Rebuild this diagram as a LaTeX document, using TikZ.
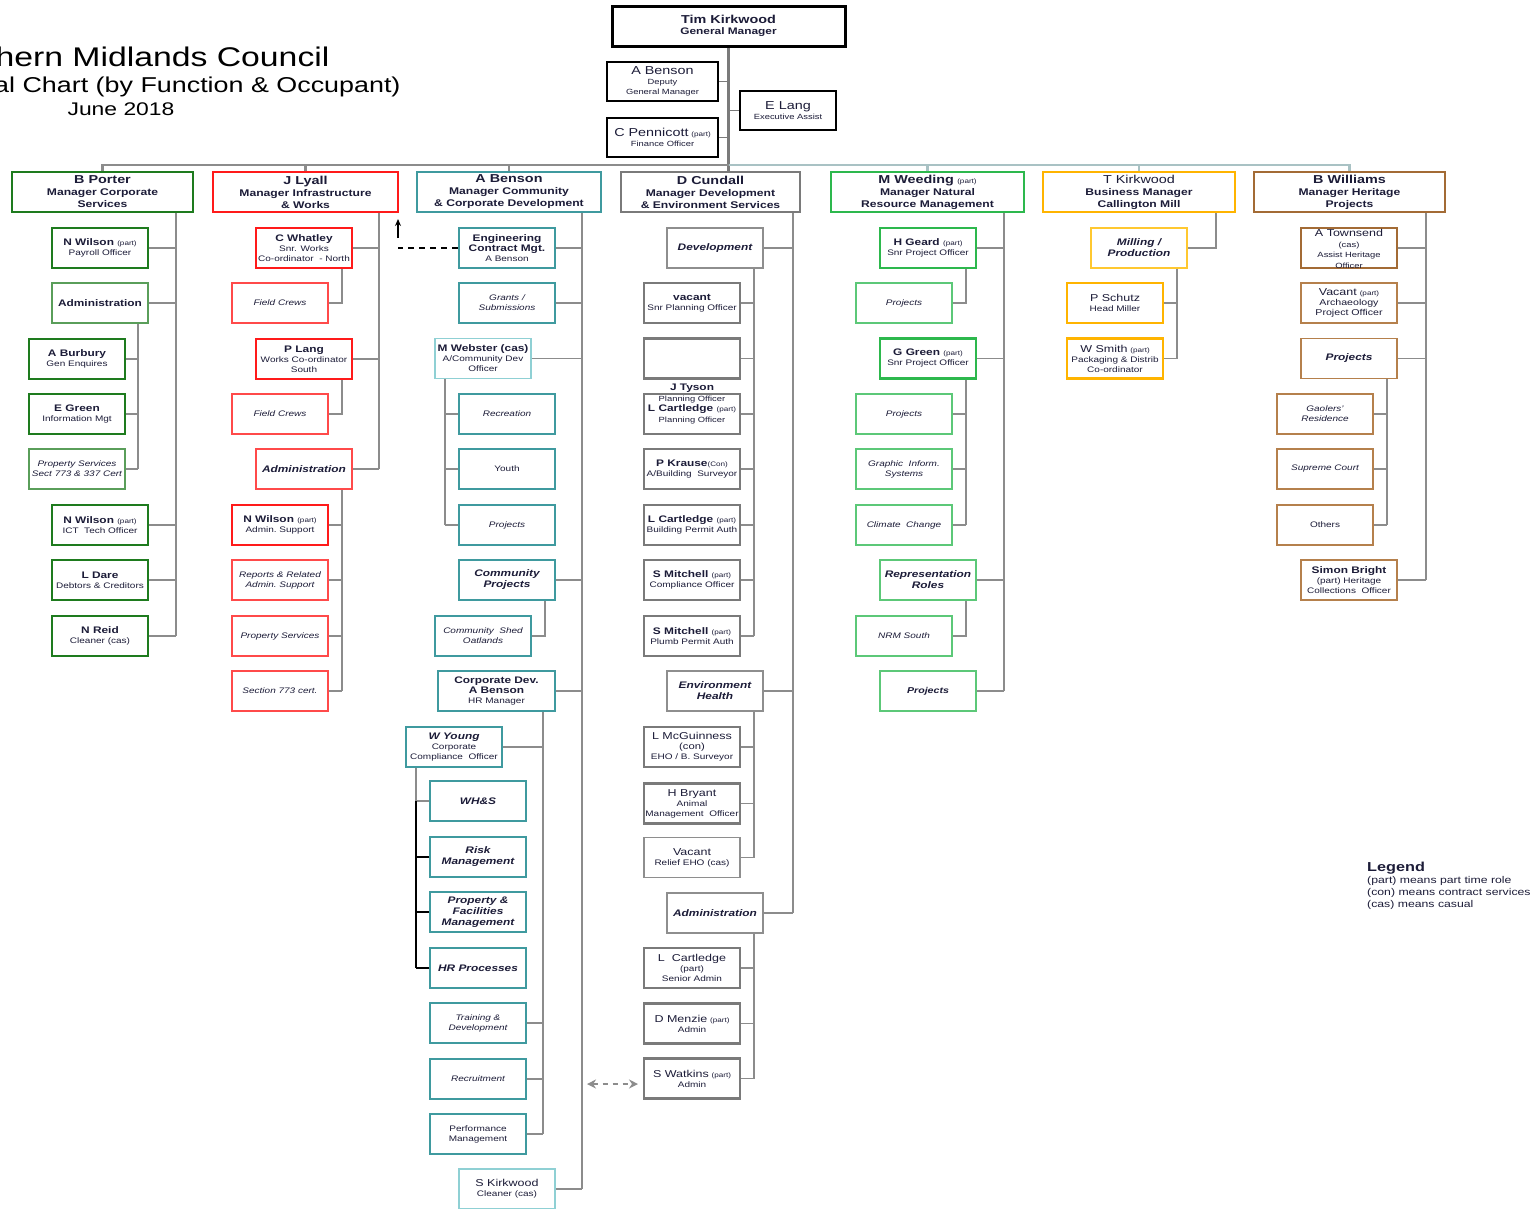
\documentclass[tikz,border=0pt]{standalone}
\usepackage{fontspec}
\setmainfont[FakeStretch=1.25]{Liberation Sans}
\usetikzlibrary{arrows.meta}
\definecolor{ink}{HTML}{1C1C38}
\definecolor{wiregray}{HTML}{8C8C8C}
\definecolor{busteal}{HTML}{A9C2C4}
\definecolor{gcorp}{HTML}{1E7B1E}
\definecolor{gcorpl}{HTML}{5A9E5A}
\definecolor{rwork}{HTML}{FF1A1A}
\definecolor{rworkl}{HTML}{FF4A4A}
\definecolor{teala}{HTML}{3F9A9F}
\definecolor{tealb}{HTML}{8FD0D4}
\definecolor{gdev}{HTML}{7A7A7A}
\definecolor{gdevl}{HTML}{8E8E8E}
\definecolor{gnrm}{HTML}{2DB84D}
\definecolor{gnrml}{HTML}{5CC878}
\definecolor{omill}{HTML}{FFB400}
\definecolor{omilll}{HTML}{FFC830}
\definecolor{bher}{HTML}{A36B35}
\definecolor{bherl}{HTML}{B5804C}
% text sizes
\newcommand{\pname}{\fontsize{9.5}{10}\selectfont\bfseries}
\newcommand{\qname}{\fontsize{10}{10}\selectfont}
\newcommand{\hname}{\fontsize{11.5}{12}\selectfont}
\newcommand{\ptag}[1]{{\fontsize{6.5}{8}\selectfont\mdseries #1}}

\begin{document}
\begin{tikzpicture}[x=1pt,y=-1pt,
	box/.style={draw,rectangle,fill=white,minimum width=96,minimum height=40,inner sep=1pt,align=center,text=ink,font=\fontsize{8}{10}\selectfont},
	person/.style={box,line width=2.6pt},
	func/.style={box,line width=1.4pt},
	fitem/.style={func,font=\fontsize{8}{10}\selectfont\itshape},
	fhead/.style={func,font=\fontsize{9.5}{11}\selectfont\bfseries\itshape},
	head/.style={box,line width=2.8pt,font=\fontsize{9.7}{12}\selectfont\bfseries},
	topbox/.style={box,draw=black,line width=1.9pt,minimum width=111,minimum height=39},
	wire/.style={draw=wiregray,line width=2.4pt},
	twig/.style={draw=wiregray,line width=1.9pt}]
	\useasboundingbox (0,0) rectangle (1533,1208);
	% title
	\node[anchor=base east,font=\fontsize{27}{30}\selectfont,text=black] (title) at (333,66) {hern Midlands Council};
	\node[anchor=base east,font=\fontsize{21.5}{24}\selectfont,text=black] (subtitle) at (404,92) {al Chart (by Function \& Occupant)};
	\node[anchor=base,font=\fontsize{18.3}{20}\selectfont,text=black] (date) at (121,115) {June 2018};
	% general manager
	\node[box,draw=black,line width=3pt,minimum width=233,font=\fontsize{9.5}{11}\selectfont\bfseries] (tim) at (728.5,26) {{\hname Tim Kirkwood}\\General Manager};
	\node[topbox] (deputy) at (662.5,81.5) {{\fontsize{11.5}{12}\selectfont A Benson}\\{\fontsize{7.5}{8}\selectfont Deputy}\\{\fontsize{7.5}{8}\selectfont General Manager}};
	\node[topbox,minimum width=96] (elang) at (788,110.5) {{\fontsize{11.5}{12}\selectfont E Lang}\\{\fontsize{7.5}{8}\selectfont Executive Assist}};
	\node[topbox] (pennicott) at (662.5,137.5) {{\fontsize{11.5}{12}\selectfont C Pennicott} \ptag{(part)}\\{\fontsize{7.5}{8}\selectfont Finance Officer}};
	% managers
	\node[head,draw=gcorp,minimum width=181] (porter) at (102.5,192) {{\hname B Porter}\\Manager Corporate\\Services};
	\node[head,draw=rwork,minimum width=185] (lyall) at (305.5,192) {{\hname J Lyall}\\Manager Infrastructure\\\& Works};
	\node[head,draw=teala,minimum width=184] (benson) at (509,192) {{\hname A Benson}\\Manager Community\\\& Corporate Development};
	\node[head,draw=gdev,minimum width=179] (cundall) at (710.5,192) {{\hname D Cundall}\\Manager Development\\\& Environment Services};
	\node[head,draw=gnrm,minimum width=193] (weeding) at (927.5,192) {{\hname M Weeding} \ptag{(part)}\\Manager Natural\\Resource Management};
	\node[head,draw=omill,minimum width=192] (tkirk) at (1139,192) {{\hname\mdseries T Kirkwood}\\Business Manager\\Callington Mill};
	\node[head,draw=bher,minimum width=191] (williams) at (1349.5,192) {{\hname B Williams}\\Manager Heritage\\Projects};
	\coordinate (bus) at (0,165);
	\draw[wire,draw=gdev] (tim.south) -- (cundall.north -| tim.south);
	\draw[wire] (porter.north) |- (tim.south |- bus);
	\draw[wire,draw=busteal] (tim.south |- bus) -| (williams.north);
	\foreach \h in {lyall,benson} \draw[wire] (\h.north) -- (\h.north |- bus);
	\foreach \h in {weeding,tkirk} \draw[wire,draw=busteal] (\h.north) -- (\h.north |- bus);
	\draw[twig,draw=gdev] (deputy.east) -- (deputy.east -| tim.south);
	\draw[twig,draw=gdev] (pennicott.east) -- (pennicott.east -| tim.south);
	\draw[twig,draw=gdev] (elang.west) -- (elang.west -| tim.south);
	% corporate services
	\node[person,draw=gcorp] (pwilson) at (100,248) {{\pname N Wilson \ptag{(part)}}\\Payroll Officer};
	\node[func,draw=gcorpl] (cadmin) at (100,303) {\pname Administration};
	\node[person,draw=gcorp] (burbury) at (77,359) {{\pname A Burbury}\\Gen Enquires};
	\node[person,draw=gcorp] (egreen) at (77,414) {{\pname E Green}\\Information Mgt};
	\node[fitem,draw=gcorpl] (cprop) at (77,469) {Property Services\\Sect 773 \& 337 Cert};
	\node[person,draw=gcorp] (ictwilson) at (100,525) {{\pname N Wilson \ptag{(part)}}\\ICT\ \ Tech Officer};
	\node[person,draw=gcorp] (ldare) at (100,580) {{\pname L Dare}\\Debtors \& Creditors};
	\node[person,draw=gcorp] (nreid) at (100,636) {{\pname N Reid}\\Cleaner (cas)};
	\coordinate (csp) at (176,0);
	\coordinate (casp) at (138,0);
	\draw[wire] (porter.south -| csp) -- (nreid.east -| csp);
	\foreach \n in {pwilson,cadmin,ictwilson,ldare,nreid} \draw[twig] (\n.east) -- (\n.east -| csp);
	\draw[wire] (cadmin.south -| casp) -- (cprop.east -| casp);
	\foreach \n in {burbury,egreen,cprop} \draw[twig] (\n.east) -- (\n.east -| casp);
	% infrastructure & works
	\node[person,draw=rwork] (whatley) at (304,248) {{\pname C Whatley}\\Snr. Works\\Co-ordinator\ \ - North};
	\node[fitem,draw=rworkl] (crews1) at (280,303) {Field Crews};
	\node[person,draw=rwork] (plang) at (304,359) {{\pname P Lang}\\Works Co-ordinator\\South};
	\node[fitem,draw=rworkl] (crews2) at (280,414) {Field Crews};
	\node[fhead,draw=rworkl] (ladmin) at (304,469) {Administration};
	\node[person,draw=rwork] (lwilson) at (280,525) {{\pname N Wilson \ptag{(part)}}\\Admin.\ Support};
	\node[fitem,draw=rworkl] (reports) at (280,580) {Reports \& Related\\Admin.\ Support};
	\node[fitem,draw=rworkl] (lprop) at (280,636) {Property Services};
	\node[fitem,draw=rworkl] (sect) at (280,691) {Section 773 cert.};
	\coordinate (lsp) at (379,0);
	\coordinate (lasp) at (342,0);
	\draw[wire] (lyall.south -| lsp) -- (ladmin.east -| lsp);
	\foreach \n in {whatley,plang,ladmin} \draw[twig] (\n.east) -- (\n.east -| lsp);
	\draw[twig] (whatley.south -| lasp) |- (crews1.east);
	\draw[twig] (plang.south -| lasp) |- (crews2.east);
	\draw[wire] (ladmin.south -| lasp) -- (sect.east -| lasp);
	\foreach \n in {lwilson,reports,lprop,sect} \draw[twig] (\n.east) -- (\n.east -| lasp);
	% community & corporate development
	\node[person,draw=teala] (eng) at (507,248) {{\pname Engineering}\\{\pname Contract Mgt.}\\A Benson};
	\node[fitem,draw=teala] (grants) at (507,303) {Grants /\\Submissions};
	\node[func,draw=tealb] (webster) at (483,358.5) {{\pname M Webster (cas)}\\A/Community Dev\\Officer};
	\node[fitem,draw=teala] (recr) at (507,414) {Recreation};
	\node[fitem,draw=teala] (youth) at (507,469) {\upshape Youth};
	\node[fitem,draw=teala] (bproj) at (507,525) {Projects};
	\node[fhead,draw=teala] (comproj) at (507,580) {Community\\Projects};
	\node[fitem,draw=teala] (shed) at (483,636) {Community\ \ Shed\\Oatlands};
	\node[person,draw=teala,minimum width=117] (corpdev) at (496.5,691) {{\pname Corporate Dev.}\\{\pname A Benson}\\HR Manager};
	\node[person,draw=teala] (wyoung) at (454,747) {{\pname\itshape W Young}\\Corporate\\Compliance\ \ Officer};
	\node[fhead,draw=teala] (whs) at (478,801) {WH\&S};
	\node[fhead,draw=teala] (risk) at (478,857) {Risk\\Management};
	\node[fhead,draw=teala] (propfac) at (478,912) {Property \&\\Facilities\\Management};
	\node[fhead,draw=teala] (hrproc) at (478,968) {HR Processes};
	\node[fitem,draw=teala] (train) at (478,1023) {Training \&\\Development};
	\node[fitem,draw=teala] (recruit) at (478,1079) {Recruitment};
	\node[func,draw=teala] (perf) at (478,1134) {Performance\\Management};
	\node[func,draw=tealb] (skirk) at (507,1189) {{\qname S Kirkwood}\\Cleaner (cas)};
	\coordinate (bsp) at (582,0);
	\coordinate (wsp) at (445,0);
	\coordinate (cpsp) at (545,0);
	\coordinate (dsp) at (543,0);
	\coordinate (ysp) at (416,0);
	\draw[wire] (benson.south -| bsp) -- (skirk.east -| bsp);
	\foreach \n in {eng,grants,webster,comproj,corpdev,skirk} \draw[twig] (\n.east) -- (\n.east -| bsp);
	\draw[wire] (webster.south -| wsp) -- (bproj.west -| wsp);
	\foreach \n in {recr,youth,bproj} \draw[twig] (\n.west) -- (\n.west -| wsp);
	\draw[twig] (comproj.south -| cpsp) |- (shed.east);
	\draw[wire] (corpdev.south -| dsp) -- (perf.east -| dsp);
	\foreach \n in {wyoung,train,recruit,perf} \draw[twig] (\n.east) -- (\n.east -| dsp);
	\draw[wire] (wyoung.south -| ysp) -- (whs.west -| ysp) -- (whs.west);
	\draw[line width=1.8pt,black] (whs.west -| ysp) -- (hrproc.west -| ysp);
	\foreach \n in {risk,propfac,hrproc} \draw[line width=1.5pt,black] (\n.west) -- (\n.west -| ysp);
	% dashed links
	\coordinate (lytip) at (398,219);
	\coordinate (lytail) at (398,238);
	\draw[dashed,line width=1.3pt,dash pattern=on 6pt off 5pt] (eng.west) -- (eng.west -| lytail);
	\draw[-{Stealth[length=7pt,width=6pt]},line width=1.8pt] (lytail) -- (lytip);
	% development & environment services
	\node[fhead,draw=gdevl] (devt) at (715,248) {Development};
	\node[person,draw=gdev] (vacant) at (692,303) {{\pname vacant}\\Snr Planning Officer};
	\node[person,draw=gdev] (emptyb) at (692,358.5) {};
	\node[person,draw=gdev] (tyson) at (692,414) {};
	\node[box,draw=none,fill=none,font=\fontsize{7.5}{10.5}\selectfont] (tysontxt) at (692,404) {{\pname J Tyson}\\Planning Officer\\{\pname L Cartledge \ptag{(part)}}\\Planning Officer};
	\node[person,draw=gdev] (krause) at (692,469) {{\pname P Krause}\ptag{(Con)}\\A/Building\ \ Surveyor};
	\node[person,draw=gdev] (lcart1) at (692,525) {{\pname L Cartledge \ptag{(part)}}\\Building Permit Auth};
	\node[person,draw=gdev] (smitch1) at (692,580) {{\pname S Mitchell \ptag{(part)}}\\Compliance Officer};
	\node[person,draw=gdev] (smitch2) at (692,636) {{\pname S Mitchell \ptag{(part)}}\\Plumb Permit Auth};
	\node[fhead,draw=gdevl] (envh) at (715,691) {Environment\\Health};
	\node[person,draw=gdev] (mcg) at (692,747) {{\qname L McGuinness}\\{\fontsize{9}{10}\selectfont (con)}\\EHO / B.\ Surveyor};
	\node[person,draw=gdev] (bryant) at (692,803.5) {{\qname H Bryant}\\Animal\\Management\ \ Officer};
	\node[func,draw=gdevl] (vacehO) at (692,857.5) {{\qname Vacant}\\Relief EHO (cas)};
	\node[fhead,draw=gdevl] (dadmin) at (715,913) {Administration};
	\node[person,draw=gdev] (lcart2) at (692,968) {{\qname L\ \ Cartledge}\\(part)\\Senior Admin};
	\node[person,draw=gdev] (menzie) at (692,1023.5) {{\qname D Menzie} \ptag{(part)}\\Admin};
	\node[person,draw=gdev] (watkins) at (692,1078.5) {{\qname S Watkins} \ptag{(part)}\\Admin};
	\coordinate (dvsp) at (793,0);
	\coordinate (dvsub) at (754,0);
	\draw[wire] (cundall.south -| dvsp) -- (dadmin.east -| dvsp);
	\foreach \n in {devt,envh,dadmin} \draw[twig] (\n.east) -- (\n.east -| dvsp);
	\draw[wire] (devt.south -| dvsub) -- (smitch2.east -| dvsub);
	\foreach \n in {vacant,emptyb,tyson,krause,lcart1,smitch1,smitch2} \draw[twig] (\n.east) -- (\n.east -| dvsub);
	\draw[wire] (envh.south -| dvsub) -- (vacehO.east -| dvsub);
	\foreach \n in {mcg,bryant,vacehO} \draw[twig] (\n.east) -- (\n.east -| dvsub);
	\draw[wire] (dadmin.south -| dvsub) -- (watkins.east -| dvsub);
	\foreach \n in {lcart2,menzie,watkins} \draw[twig] (\n.east) -- (\n.east -| dvsub);
	\coordinate (swl) at (587,1084);
	\coordinate (swr) at (638,1084);
	\draw[draw=wiregray,line width=1.6pt,dash pattern=on 5pt off 5pt,{Stealth[length=9pt,width=9pt]}-{Stealth[length=9pt,width=9pt]}] (swl) -- (swr);
	% natural resource management
	\node[person,draw=gnrm] (geard) at (928,248) {{\pname H Geard \ptag{(part)}}\\Snr Project Officer};
	\node[fitem,draw=gnrml] (mproja) at (904,303) {Projects};
	\node[person,draw=gnrm] (ggreen) at (928,358.5) {{\pname G Green \ptag{(part)}}\\Snr Project Officer};
	\node[fitem,draw=gnrml] (mprojb) at (904,414) {Projects};
	\node[fitem,draw=gnrml] (gis) at (904,469) {Graphic\ \ Inform.\\Systems};
	\node[fitem,draw=gnrml] (climate) at (904,525) {Climate\ \ Change};
	\node[fhead,draw=gnrml] (repr) at (928,580) {Representation\\Roles};
	\node[fitem,draw=gnrml] (nrm) at (904,636) {NRM South};
	\node[fhead,draw=gnrml,font=\fontsize{8.5}{10}\selectfont\bfseries\itshape] (mprojc) at (928,691) {Projects};
	\coordinate (msp) at (1004,0);
	\coordinate (msub) at (966,0);
	\draw[wire] (weeding.south -| msp) -- (mprojc.east -| msp);
	\foreach \n in {geard,ggreen,repr,mprojc} \draw[twig] (\n.east) -- (\n.east -| msp);
	\draw[twig] (geard.south -| msub) |- (mproja.east);
	\draw[wire] (ggreen.south -| msub) -- (climate.east -| msub);
	\foreach \n in {mprojb,gis,climate} \draw[twig] (\n.east) -- (\n.east -| msub);
	\draw[twig] (repr.south -| msub) |- (nrm.east);
	% callington mill
	\node[fhead,draw=omilll] (milling) at (1139,248) {Milling /\\Production};
	\node[person,draw=omill] (schutz) at (1115,303) {{\qname P Schutz}\\Head Miller};
	\node[person,draw=omill] (wsmith) at (1115,358.5) {{\qname W Smith} \ptag{(part)}\\Packaging \& Distrib\\Co-ordinator};
	\coordinate (ksp) at (1216,0);
	\coordinate (ksub) at (1177,0);
	\draw[wire] (tkirk.south -| ksp) |- (milling.east);
	\draw[wire] (milling.south -| ksub) -- (wsmith.east -| ksub);
	\foreach \n in {schutz,wsmith} \draw[twig] (\n.east) -- (\n.east -| ksub);
	% heritage projects
	\node[person,draw=bher] (townsend) at (1349,248) {};
	\node[box,draw=none,fill=none,font=\fontsize{7.5}{10.5}\selectfont] (townsendtxt) at (1349,249) {{\qname A Townsend}\\(cas)\\Assist Heritage\\Officer};
	\node[func,draw=bherl,font=\fontsize{8.5}{10}\selectfont] (archae) at (1349,303) {{\qname Vacant} \ptag{(part)}\\Archaeology\\Project Officer};
	\node[fhead,draw=bherl] (hproj) at (1349,358.5) {Projects};
	\node[fitem,draw=bherl] (gaolers) at (1325,414) {Gaolers'\\Residence};
	\node[fitem,draw=bherl] (supreme) at (1325,469) {Supreme Court};
	\node[fitem,draw=bherl] (others) at (1325,525) {\upshape Others};
	\node[func,draw=bherl] (bright) at (1349,580) {{\pname Simon Bright}\\(part) Heritage\\Collections\ \ Officer};
	\coordinate (hsp) at (1426,0);
	\coordinate (hsub) at (1387,0);
	\draw[wire] (williams.south -| hsp) -- (bright.east -| hsp);
	\foreach \n in {townsend,archae,hproj,bright} \draw[twig] (\n.east) -- (\n.east -| hsp);
	\draw[wire] (hproj.south -| hsub) -- (others.east -| hsub);
	\foreach \n in {gaolers,supreme,others} \draw[twig] (\n.east) -- (\n.east -| hsub);
	% legend
	\node[anchor=north west,align=left,inner sep=0,text=ink,font=\fontsize{9.8}{12}\selectfont] (legend) at (1367,862) {{\bfseries\fontsize{13}{14}\selectfont Legend}\\(part) means part time role\\(con) means contract services\\(cas) means casual};
\end{tikzpicture}
\end{document}
